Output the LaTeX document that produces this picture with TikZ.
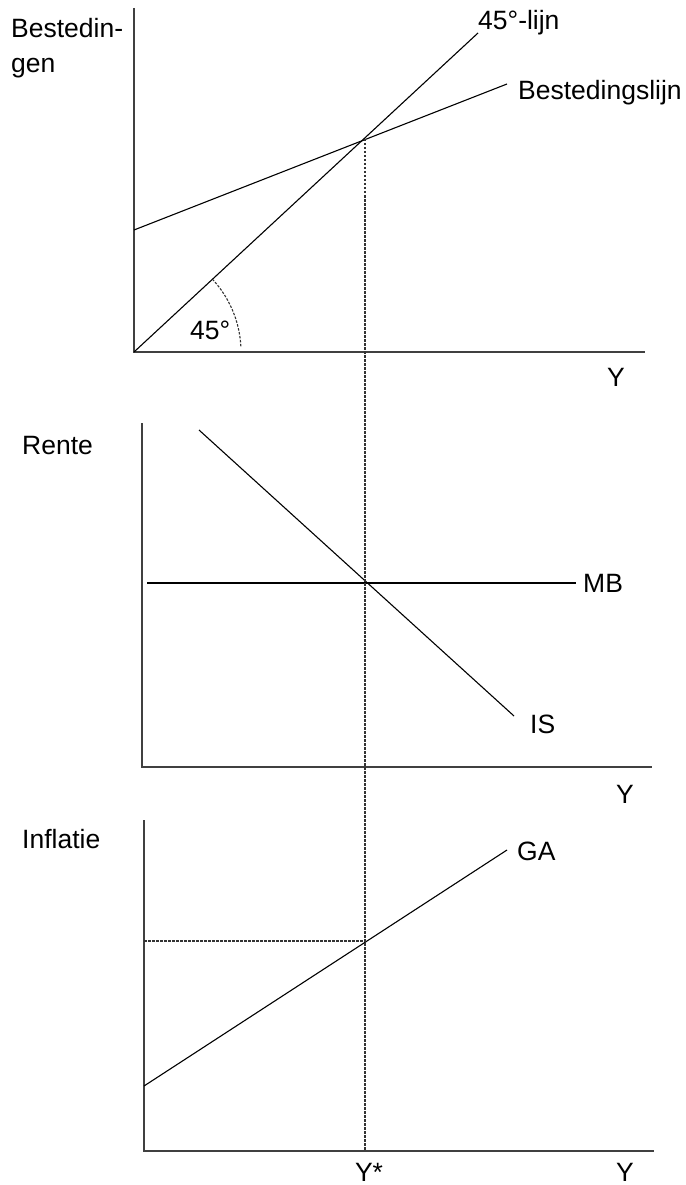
\documentclass[tikz,border=0pt]{standalone}
\usepackage{fontspec}
\setmainfont{Liberation Sans}
\begin{document}
\begin{tikzpicture}[x=1pt,y=-1pt,
  axis/.style={line width=1.4pt, draw=black!75},
  curve/.style={line width=1.1pt, draw=black},
  guide/.style={line width=1.1pt, draw=black!80, dash pattern=on 2.5pt off 1.5pt},
  lbl/.style={font=\fontsize{26.5}{35}\selectfont, inner sep=0pt}]
\useasboundingbox (0,0) rectangle (685,1185);
% ---------- top panel ----------
\coordinate (o1) at (134,352);
\coordinate (y1) at (134,8);
\coordinate (x1) at (645,352);
\coordinate (l45) at (478,33);
\coordinate (b0) at (134,230);
\coordinate (b1) at (507,84);
\coordinate (e1) at (365,139);
\draw[axis] (y1) -- (o1) -- (x1);
\draw[curve] (o1) -- (l45);
\draw[curve] (b0) -- (b1);
\draw[guide] (o1) ++(-3:107) arc (-3:-42.5:107);
\node[lbl, anchor=north west, align=left] (tb) at (11,18) {Bestedin-\\gen};
\node[lbl, anchor=base west] (t45l) at (478,30) {45°-lijn};
\node[lbl, anchor=base west] (tbl) at (518,100) {Bestedingslijn};
\node[lbl, anchor=base west] (t45) at (190,339) {45°};
\node[lbl, anchor=base] (ty1) at (616,386) {Y};
% ---------- middle panel ----------
\coordinate (o2) at (142,767);
\coordinate (y2) at (142,423);
\coordinate (x2) at (652,767);
\coordinate (is0) at (199,430);
\coordinate (is1) at (514,716);
\coordinate (mb0) at (147,583);
\coordinate (mb1) at (576,583);
\draw[axis] (y2) -- (o2) -- (x2);
\draw[curve] (is0) -- (is1);
\draw[curve] (mb0) -- (mb1);
\node[lbl, anchor=base west] (tr) at (22,454) {Rente};
\node[lbl, anchor=base west] (tmb) at (583,592) {MB};
\node[lbl, anchor=base west] (tis) at (530,733) {IS};
\node[lbl, anchor=base] (ty2) at (625,803) {Y};
% ---------- bottom panel ----------
\coordinate (o3) at (144,1151);
\coordinate (y3) at (144,820);
\coordinate (x3) at (654,1151);
\coordinate (ga0) at (144,1086);
\coordinate (ga1) at (507,850);
\coordinate (e3) at (365,941);
\coordinate (p3) at (144,941);
\coordinate (ys) at (365,1151);
\draw[axis] (y3) -- (o3) -- (x3);
\draw[curve] (ga0) -- (ga1);
\draw[guide] (p3) -- (e3);
\node[lbl, anchor=base west] (ti) at (22,848) {Inflatie};
\node[lbl, anchor=base west] (tga) at (517,860) {GA};
\node[lbl, anchor=base] (tys) at (369,1181) {Y*};
\node[lbl, anchor=base] (ty3) at (625,1181) {Y};
% ---------- vertical guide ----------
\draw[guide] (e1) -- (ys);
\end{tikzpicture}
\end{document}
